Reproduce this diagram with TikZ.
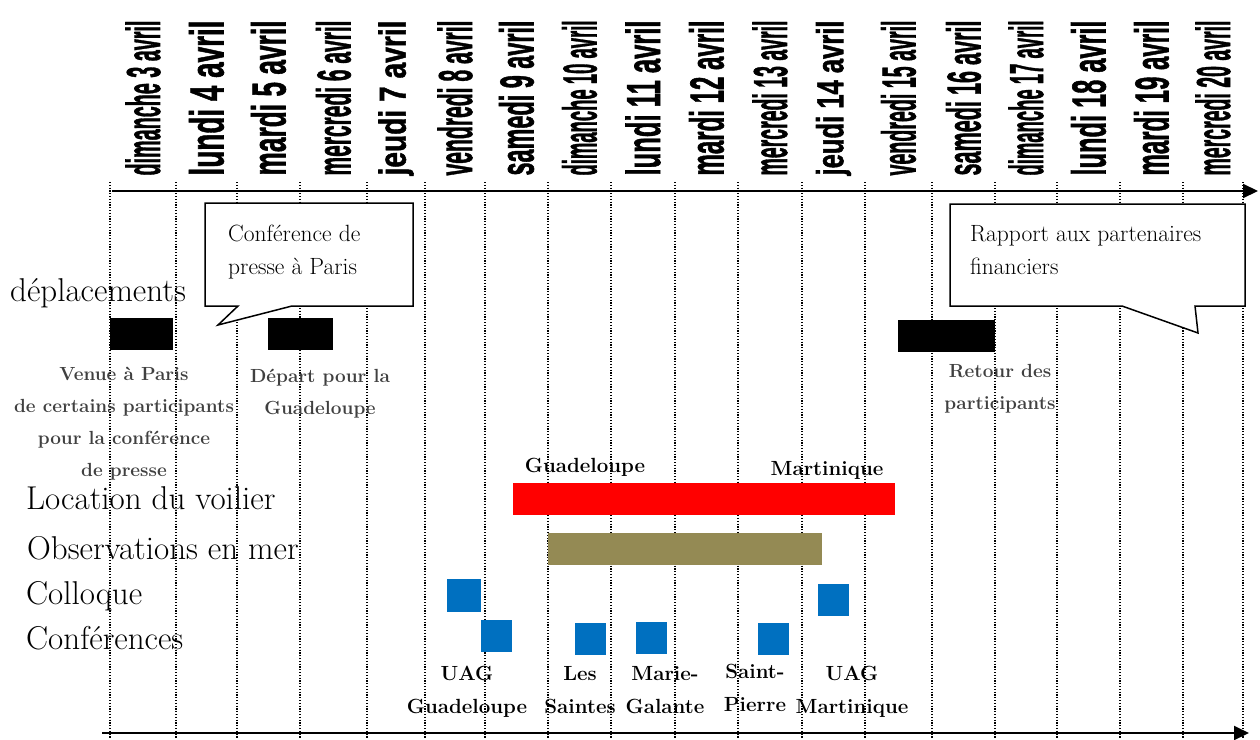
\documentclass[tikz,border=0pt]{standalone}
\usepackage{fontspec}
\usepackage{graphicx}
\usetikzlibrary{arrows.meta}
\newfontfamily\dayfont{Liberation Sans}[BoldFeatures={FakeBold=1.5}]
\definecolor{olivebar}{HTML}{948A54}
\definecolor{bluebox}{HTML}{0070C0}
\definecolor{notegray}{HTML}{404040}
\newcommand{\daylabel}[1]{\resizebox*{155pt}{35pt}{\dayfont\bfseries #1}}

\begin{document}
\begin{tikzpicture}[x=1pt,y=-1pt,
  rowlabel/.style={anchor=base west,inner sep=0,font=\fontsize{33}{35}\selectfont},
  note/.style={inner sep=0,align=center,text=notegray,font=\fontsize{19}{32}\selectfont\bfseries},
  place/.style={inner sep=0,align=center,font=\fontsize{20.5}{33}\selectfont\bfseries},
  bubble/.style={fill=white,draw=black,line width=1.5pt,line join=miter},
  bubbletext/.style={anchor=north west,inner sep=0,align=left,font=\fontsize{23.5}{33}\selectfont},
  axis/.style={line width=2pt,-{Triangle[length=15pt,width=14pt]}}]
  \useasboundingbox (0,0) rectangle (1260,739);
  % grid of days
  \foreach \x in {110,176,237,300,367,425,485,548,611,675,738,802,865,932,995,1057,1120,1183,1243} {
    \draw [line width=1.2pt,dash pattern=on 1.2pt off 1.6pt] (\x,182) -- (\x,739);
  }
  \foreach \a/\b/\d in {110/176/dimanche 3 avril,176/237/lundi 4 avril,237/300/mardi 5 avril,
      300/367/mercredi 6 avril,367/425/jeudi 7 avril,425/485/vendredi 8 avril,485/548/samedi 9 avril,
      548/611/dimanche 10 avril,611/675/lundi 11 avril,675/738/mardi 12 avril,738/802/mercredi 13 avril,
      802/865/jeudi 14 avril,865/932/vendredi 15 avril,932/995/samedi 16 avril,995/1057/dimanche 17 avril,
      1057/1120/lundi 18 avril,1120/1183/mardi 19 avril,1183/1243/mercredi 20 avril} {
    \pgfmathsetmacro\mid{(\a+\b)/2}
    \node [rotate=90,inner sep=0] (d\a) at (\mid,98) {\daylabel{\d}};
  }
  \coordinate (topstart) at (112,191);
  \coordinate (topend) at (1258,191);
  \coordinate (botstart) at (102,733);
  \coordinate (botend) at (1249,733);
  \draw [axis] (topstart) -- (topend);
  \draw [axis] (botstart) -- (botend);

  % callouts
  \draw [bubble] (205,203) -- (413,203) -- (413,306) -- (292,306) -- (218,325) -- (238,306) -- (205,306) -- cycle;
  \node [bubbletext] (press) at (228,225) {Conférence de\\presse à Paris};
  \draw [bubble] (950,204) -- (1245,204) -- (1245,306) -- (1195,306) -- (1198,333) -- (1122,306) -- (950,306) -- cycle;
  \node [bubbletext] (report) at (970,225) {Rapport aux partenaires\\financiers};

  % bars
  \fill (110,318) rectangle (173,350);
  \fill (268,318) rectangle (333,350);
  \fill (898,320) rectangle (995,352);
  \fill [red] (513,483) rectangle (895,515);
  \fill [olivebar] (548,533) rectangle (822,565);
  \fill [bluebox] (447,579) rectangle (481,612);
  \foreach \x/\y in {481/620,575/623,636/622,758/623,818/584} {
    \fill [bluebox] (\x,\y) rectangle ++(31,32);
  }

  % row labels
  \node [rowlabel] (moves) at (10,301) {déplacements};
  \node [rowlabel] (boat) at (26,509) {Location du voilier};
  \node [rowlabel] (sea) at (27,559) {Observations en mer};
  \node [rowlabel] (colloq) at (26,604) {Colloque};
  \node [rowlabel] (talks) at (26,649) {Conférences};

  \node [note,anchor=north] (arrive) at (124,367) {Venue à Paris\\de certains participants\\pour la conférence\\de presse};
  \node [note,anchor=north] (leave) at (320,369) {Départ pour la\\Guadeloupe};
  \node [note,anchor=north] (return) at (1000,364) {Retour des\\participants};

  \node [place,anchor=base] (gwada) at (585,472) {Guadeloupe};
  \node [place,anchor=base] (mada) at (827,475) {Martinique};
  \node [place,anchor=north] (uagg) at (467,666) {UAG\\Guadeloupe};
  \node [place,anchor=north] (saintes) at (580,666) {Les\\Saintes};
  \node [place,anchor=north] (galante) at (665,666) {Marie-\\Galante};
  \node [place,anchor=north] (pierre) at (755,664) {Saint-\\Pierre};
  \node [place,anchor=north] (uagm) at (852,666) {UAG\\Martinique};
\end{tikzpicture}
\end{document}
